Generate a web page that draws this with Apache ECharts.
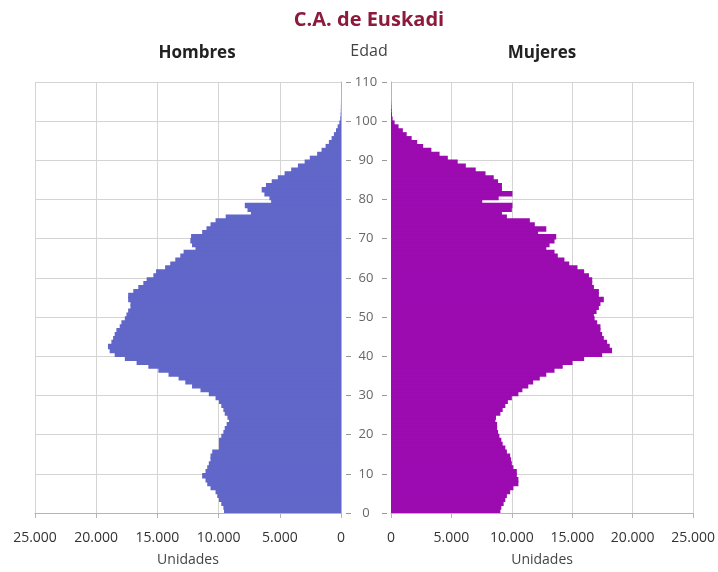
<!DOCTYPE html>
<html>
<head>
<meta charset="utf-8">
<script src="https://cdn.jsdelivr.net/npm/echarts@6/dist/echarts.min.js"></script>
<style>html,body{margin:0;padding:0;background:#fff}#c{width:718px;height:572px}</style>
</head>
<body>
<div id="c"></div>
<script>
// Ages 0..109 (one category per year)
const ages = [];
for (let i = 0; i < 110; i++) ages.push(String(i));

const hombres = [
 9560, 9610, 9780, 9970, 10110, 10250, 10660, 10930, 11070, 11345,
 11070, 10930, 10800, 10660, 10660, 10520, 9970, 9970, 9970, 9780,
 9610, 9500, 9340, 9150, 9280, 9500, 9610, 9780, 9970, 10250,
 10800, 11480, 12170, 12720, 13270, 14090, 14920, 15740, 16700, 17660,
 18490, 18900, 19040, 18760, 18620, 18490, 18350, 18080, 17940, 17660,
 17530, 17390, 17200, 17200, 17390, 17390, 16970, 16560, 16150, 15880,
 15330, 15110, 14370, 13950, 13540, 13130, 12860, 11890, 12170, 12310,
 12250, 11345, 10990, 10660, 10250, 9420, 7360, 7640, 7860, 5710,
 5850, 6260, 6480, 6130, 5660, 5160, 4610, 4070, 3520, 2970,
 2550, 1950, 1590, 1260, 990, 770, 580, 410, 275, 137,
 60, 30, 15, 8, 4, 0, 0, 0, 0, 0
];

const mujeres = [
 9050, 9130, 9320, 9460, 9590, 9860, 10130, 10540, 10540, 10410,
 10410, 10130, 10000, 9940, 9860, 9590, 9460, 9240, 9130, 8970,
 8860, 8780, 8780, 8640, 8690, 9050, 9240, 9460, 9670, 10000,
 10540, 10870, 11360, 11760, 12310, 12850, 13530, 14210, 15020, 15980,
 17470, 18290, 18100, 17880, 17610, 17470, 17330, 17330, 17060, 16850,
 16790, 17010, 17200, 17330, 17610, 17200, 17200, 16790, 16650, 16650,
 16380, 15980, 15430, 14750, 14350, 13800, 13530, 12850, 13120, 13530,
 13670, 12170, 12850, 11900, 11490, 9590, 9180, 10000, 10050, 7550,
 8910, 10050, 9180, 9180, 8860, 8500, 7820, 7010, 6190, 5520,
 4700, 4020, 3340, 2660, 2170, 1710, 1300, 980, 625, 300,
 135, 80, 50, 25, 10, 0, 0, 0, 0, 0
];

const xTicks = [0, 5000, 10000, 15000, 20000, 25000];
const yTicks = [0, 10, 20, 30, 40, 50, 60, 70, 80, 90, 100, 110];

function fmt(v) {
  return String(v).replace(/\B(?=(\d{3})+(?!\d))/g, '.');
}

const FONT = 'Open Sans';
const gridLine = { show: true, lineStyle: { color: '#d4d4d4', width: 1 } };
const axisLineStyle = { show: true, lineStyle: { color: '#b5b5b5', width: 1 } };

function xAxisCfg(gi, inverse) {
  return {
    gridIndex: gi, type: 'value', inverse: inverse,
    min: xTicks[0], max: xTicks[xTicks.length - 1], interval: xTicks[1] - xTicks[0],
    position: 'bottom',
    axisLine: axisLineStyle,
    axisTick: { show: true, length: 5, lineStyle: { color: '#b5b5b5' } },
    axisLabel: { margin: 18, fontSize: 14, color: '#333', fontFamily: FONT, formatter: fmt },
    splitLine: gridLine,
    name: 'Unidades', nameLocation: 'middle', nameGap: 40,
    nameTextStyle: { fontSize: 14, color: '#444', fontFamily: FONT }
  };
}

function yCat(gi) {
  return {
    gridIndex: gi, type: 'category', data: ages,
    axisLine: { show: false }, axisTick: { show: false }, axisLabel: { show: false },
    splitLine: { show: false }
  };
}

function yVal(gi, pos, opts) {
  return Object.assign({
    gridIndex: gi, type: 'value', position: pos,
    min: yTicks[0], max: yTicks[yTicks.length - 1], interval: yTicks[1] - yTicks[0],
    axisLine: axisLineStyle, axisTick: { show: false }, axisLabel: { show: false },
    splitLine: gridLine
  }, opts || {});
}

const option = {
  backgroundColor: '#fff',
  animation: false,
  title: [
    { text: 'C.A. de Euskadi', left: 364, top: 5, textAlign: 'center',
      textStyle: { fontSize: 20, fontWeight: 'bold', color: '#8b1a3b', fontFamily: FONT } },
    { text: 'Hombres', left: 192, top: 40, textAlign: 'center',
      textStyle: { fontSize: 17, fontWeight: 'bold', color: '#222', fontFamily: FONT } },
    { text: 'Edad', left: 364, top: 38, textAlign: 'center',
      textStyle: { fontSize: 16, fontWeight: 'normal', color: '#444', fontFamily: FONT } },
    { text: 'Mujeres', left: 537, top: 40, textAlign: 'center',
      textStyle: { fontSize: 17, fontWeight: 'bold', color: '#222', fontFamily: FONT } }
  ],
  grid: [
    { left: 35, top: 82, width: 306, height: 431 },
    { left: 391, top: 82, width: 306, height: 431 },
    { left: 346, top: 82, width: 41, height: 431 }
  ],
  xAxis: [
    xAxisCfg(0, true),
    xAxisCfg(1, false),
    { gridIndex: 2, type: 'value', show: false, min: 0, max: 1 }
  ],
  yAxis: [
    yCat(0),
    yVal(0, 'right'),
    yCat(1),
    yVal(1, 'left'),
    yVal(2, 'left', {
      axisLine: { show: false }, splitLine: { show: false },
      axisTick: { show: true, inside: true, length: 5, lineStyle: { color: '#999' } },
      axisLabel: { show: true, inside: true, margin: 20, align: 'center',
                   fontSize: 13, color: '#666', fontFamily: FONT }
    }),
    yVal(2, 'right', {
      axisLine: { show: false }, splitLine: { show: false },
      axisTick: { show: true, inside: true, length: 5, lineStyle: { color: '#999' } }
    })
  ],
  series: [
    { name: 'Hombres', type: 'bar', xAxisIndex: 0, yAxisIndex: 0, data: hombres,
      barWidth: '140%', barGap: '-100%',
      itemStyle: { color: '#6166c9', borderWidth: 0 } },
    { name: 'Mujeres', type: 'bar', xAxisIndex: 1, yAxisIndex: 2, data: mujeres,
      barWidth: '140%', barGap: '-100%',
      itemStyle: { color: '#9b0bb0', borderWidth: 0 } }
  ]
};

const chart = echarts.init(document.getElementById('c'), null, { renderer: 'canvas' });
chart.setOption(option);
</script>
</body>
</html>
